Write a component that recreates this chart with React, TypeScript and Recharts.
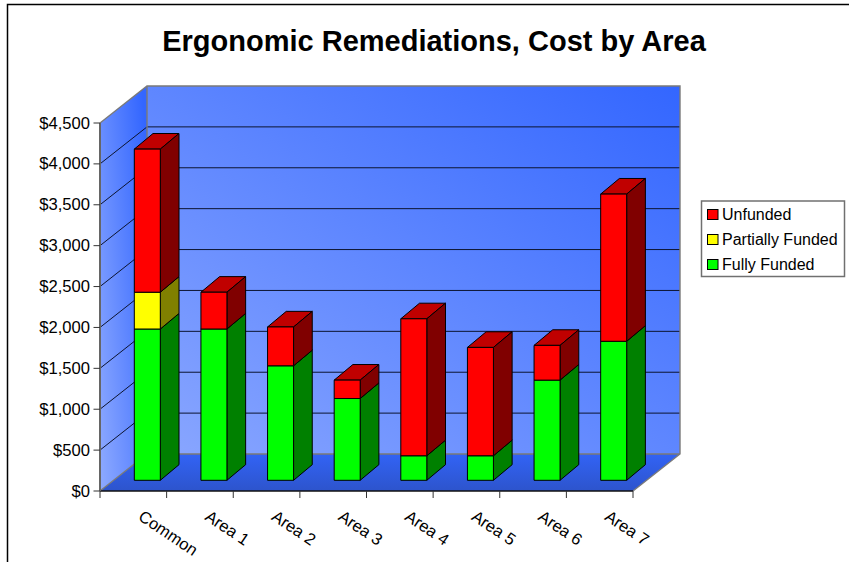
import React from "react";
import { BarChart, Bar, XAxis, YAxis, Customized } from "recharts";

const categories = ["Common", "Area 1", "Area 2", "Area 3", "Area 4", "Area 5", "Area 6", "Area 7"];
const fullyFunded = [1850, 1850, 1400, 1000, 300, 300, 1225, 1700];
const partiallyFunded = [450, 0, 0, 0, 0, 0, 0, 0];
const unfunded = [1750, 450, 475, 225, 1675, 1325, 425, 1800];
const yTicks = [0, 500, 1000, 1500, 2000, 2500, 3000, 3500, 4000, 4500];

const rows = categories.map((name, i) => ({
  name,
  fully: fullyFunded[i],
  partial: partiallyFunded[i],
  unfunded: unfunded[i],
}));

const W = 849;
const H = 562;
const PLOT = { left: 100, right: 633, top: 123, bottom: 491 };
const BACK = { dx: 47, dy: -37 };
const BAR_SHIFT = { dx: 14.3, dy: -10.7 };
const BAR_DEPTH = { dx: 18.7, dy: -15.6 };
const FONT = "'Liberation Sans', Arial, sans-serif";
const BAND = (PLOT.right - PLOT.left) / categories.length;
const yPx = (v: number) => PLOT.bottom - (v / 4500) * (PLOT.bottom - PLOT.top);

const legendItems = [
  { label: "Unfunded", color: "#ff0000" },
  { label: "Partially Funded", color: "#ffff00" },
  { label: "Fully Funded", color: "#00ff00" },
];

// Extruded box: front face, right side and top cap.
const Box3D = (colors: { front: string; side: string; top: string }) => (props: any) => {
  const { x, y, width, height } = props;
  if (!height || height <= 0) return <g />;
  const l = x + BAR_SHIFT.dx;
  const r = l + width;
  const t = y + BAR_SHIFT.dy;
  const b = t + height;
  const { dx, dy } = BAR_DEPTH;
  return (
    <g stroke="#000" strokeWidth={1} strokeLinejoin="round">
      <path d={`M${l} ${t}L${l + dx} ${t + dy}L${r + dx} ${t + dy}L${r} ${t}Z`} fill={colors.top} />
      <path d={`M${r} ${t}L${r + dx} ${t + dy}L${r + dx} ${b + dy}L${r} ${b}Z`} fill={colors.side} />
      <rect x={l} y={t} width={width} height={height} fill={colors.front} />
    </g>
  );
};

const Backdrop = () => {
  const { left, right, top, bottom } = PLOT;
  const { dx, dy } = BACK;
  return (
    <g>
      <defs>
        <linearGradient id="wallBack" x1="0" y1="1" x2="1" y2="0">
          <stop offset="0" stopColor="#8aa7ff" />
          <stop offset="1" stopColor="#3366ff" />
        </linearGradient>
        <linearGradient id="wallSide" x1="0" y1="0.9" x2="1" y2="0.15">
          <stop offset="0" stopColor="#8aa7ff" />
          <stop offset="1" stopColor="#3366ff" />
        </linearGradient>
        <linearGradient id="floor" x1="0" y1="0" x2="0" y2="1">
          <stop offset="0" stopColor="#3263f5" />
          <stop offset="1" stopColor="#2d54cc" />
        </linearGradient>
      </defs>
      <path d={`M7.5 ${H}V4.5H${W}`} fill="none" stroke="#000" strokeWidth={1.5} />
      <text x={434} y={51} textAnchor="middle" fontFamily={FONT} fontWeight={700} fontSize={29} fill="#000">
        Ergonomic Remediations, Cost by Area
      </text>

      <rect x={left + dx} y={top + dy} width={right - left} height={bottom - top} fill="url(#wallBack)" />
      <path
        d={`M${left} ${top}L${left + dx} ${top + dy}L${left + dx} ${bottom + dy}L${left} ${bottom}Z`}
        fill="url(#wallSide)"
      />
      <path
        d={`M${left} ${bottom}L${left + dx} ${bottom + dy}L${right + dx} ${bottom + dy}L${right} ${bottom}Z`}
        fill="url(#floor)"
      />
      {yTicks.slice(1, -1).map((v) => (
        <path
          key={v}
          d={`M${left} ${yPx(v)}L${left + dx} ${yPx(v) + dy}H${right + dx}`}
          fill="none"
          stroke="#0c1430"
          strokeWidth={1}
        />
      ))}
      <path
        d={`M${left} ${top}L${left + dx} ${top + dy}H${right + dx}V${bottom + dy}L${right} ${bottom}M${left + dx} ${top + dy}V${bottom + dy}H${right + dx}M${left} ${bottom}L${left + dx} ${bottom + dy}`}
        fill="none"
        stroke="#7a7a7a"
        strokeWidth={1.4}
      />

      {legendItems.map((it, i) => (
        <g key={it.label}>
          <rect x={707.5} y={209.5 + i * 25} width={10.5} height={10} fill={it.color} stroke="#000" strokeWidth={1} />
          <text x={722} y={220 + i * 25} fontFamily={FONT} fontSize={16} fill="#000">
            {it.label}
          </text>
        </g>
      ))}
      <rect x={701.5} y={201} width={143} height={75.5} fill="none" stroke="#707070" strokeWidth={1.5} />
    </g>
  );
};

const CategoryTick = (props: any) => {
  const { x, y, payload, index } = props;
  const left = x - BAND / 2;
  return (
    <g>
      <path d={`M${left} ${PLOT.bottom}v7`} stroke="#333" strokeWidth={1} />
      {index === categories.length - 1 && <path d={`M${left + BAND} ${PLOT.bottom}v7`} stroke="#333" strokeWidth={1} />}
      <text
        x={x + 4}
        y={y + 20}
        transform={`rotate(34 ${x + 4} ${y + 20})`}
        fontFamily={FONT}
        fontSize={16.5}
        fill="#000"
      >
        {payload.value}
      </text>
    </g>
  );
};

const MoneyTick = (props: any) => {
  const { y, payload } = props;
  return (
    <g>
      <path d={`M93.5 ${y}H100`} stroke="#333" strokeWidth={1} />
      <text x={90} y={y + 5.5} textAnchor="end" fontFamily={FONT} fontSize={16.6} fill="#000">
        {"$" + payload.value.toLocaleString("en-US")}
      </text>
    </g>
  );
};

export default function App() {
  return (
    <div style={{ position: "absolute", left: 0, top: 0, width: W, height: H, background: "#fff" }}>
      <BarChart
        width={W}
        height={H}
        data={rows}
        margin={{ top: PLOT.top, left: 30, right: W - PLOT.right, bottom: 21 }}
        barSize={26}
      >
        <Customized component={Backdrop} />
        <XAxis
          dataKey="name"
          height={50}
          tick={<CategoryTick />}
          tickLine={false}
          interval={0}
          axisLine={{ stroke: "#111", strokeWidth: 1.5 }}
        />
        <YAxis
          width={70}
          domain={[0, 4500]}
          ticks={yTicks}
          tick={<MoneyTick />}
          tickLine={false}
          axisLine={{ stroke: "#666", strokeWidth: 2 }}
        />
        <Bar
          dataKey="fully"
          stackId="funding"
          isAnimationActive={false}
          fill="#00ff00"
          shape={Box3D({ front: "#00ff00", side: "#008000", top: "#00c000" })}
        />
        <Bar
          dataKey="partial"
          stackId="funding"
          isAnimationActive={false}
          fill="#ffff00"
          shape={Box3D({ front: "#ffff00", side: "#808000", top: "#c0c000" })}
        />
        <Bar
          dataKey="unfunded"
          stackId="funding"
          isAnimationActive={false}
          fill="#ff0000"
          shape={Box3D({ front: "#ff0000", side: "#800000", top: "#c00000" })}
        />
      </BarChart>
    </div>
  );
}
